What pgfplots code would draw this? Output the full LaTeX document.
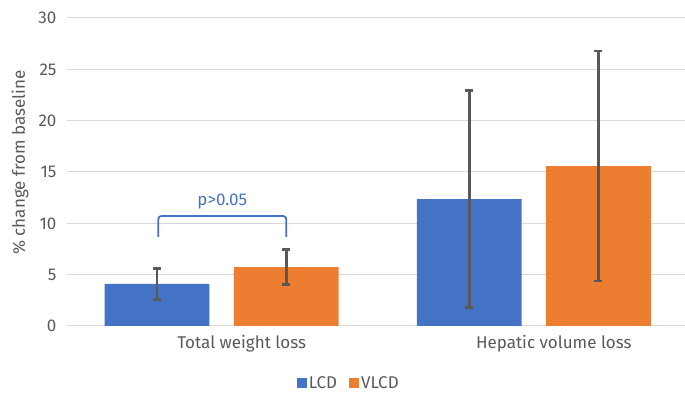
\documentclass[border=0pt]{standalone}
\usepackage{fontspec}
\setmainfont{Fira Sans}
\usepackage{pgfplots}
\pgfplotsset{compat=1.18}
\definecolor{lcd}{HTML}{4472C4}
\definecolor{vlcd}{HTML}{ED7D31}
\definecolor{txt}{HTML}{595959}
\definecolor{gridc}{HTML}{D9D9D9}
\definecolor{errc}{HTML}{595959}
\newcommand{\chartfont}{\fontsize{17}{20}\selectfont}
\begin{document}
\begin{tikzpicture}[x=1pt,y=1pt]
\path[use as bounding box] (-67,-67) rectangle (618,326);
\begin{axis}[
 scale only axis, width=618pt, height=308pt,
 xmin=-0.4955, xmax=1.4843, ymin=0, ymax=30,
 ytick={0,5,...,30}, xtick={0,1},
 xticklabels={Total weight loss, Hepatic volume loss},
 axis line style={draw=none}, tick style={draw=none},
 ymajorgrids, grid style={gridc, line width=1pt},
 tick label style={font=\chartfont, text=txt},
 /pgf/number format/assume math mode=true,
 yticklabel style={xshift=-7pt},
 xticklabel style={xshift=20pt, yshift=-6pt},
 ylabel={\% change from baseline},
 ylabel style={at={(axis description cs:-0.076,0.53)}, anchor=center, font=\chartfont, text=txt},
 legend style={at={(axis description cs:0.456,-0.185)}, anchor=center, draw=none, fill=none,
   legend columns=2, font=\chartfont, text=txt, inner sep=0pt,
   /tikz/every even column/.append style={column sep=10pt}},
 legend image code/.code={\fill[#1] (0pt,-5pt) rectangle (10pt,5pt);},
]
\addplot[ybar, bar width=0.336, bar shift=0, fill=lcd, draw=none]
 coordinates {(-0.207,4.1) (0.793,12.37)};
\addlegendentry{LCD}
\addplot[ybar, bar width=0.336, bar shift=0, fill=vlcd, draw=none]
 coordinates {(0.207,5.74) (1.207,15.58)};
\addlegendentry{VLCD}
\addplot[forget plot, draw=none, mark=none,
  error bars/.cd, y dir=both, y explicit, error mark=-,
  error bar style={errc, line width=2.6pt},
  error mark options={errc, line width=2.6pt, mark size=4pt, rotate=90}]
 coordinates {(-0.207,4.1) +- (0,1.52) (0.793,12.37) +- (0,10.55)
              (0.207,5.74) +- (0,1.7) (1.207,15.58) +- (0,11.2)};
\draw[lcd, line width=1.8pt, rounded corners=3pt]
  (axis cs:-0.203,8.67) -- (axis cs:-0.203,10.71) -- (axis cs:0.207,10.71) -- (axis cs:0.207,8.67);
\node[lcd, font=\chartfont] at (axis cs:0.002,12.17) {p>0.05};
\end{axis}
\end{tikzpicture}
\end{document}
